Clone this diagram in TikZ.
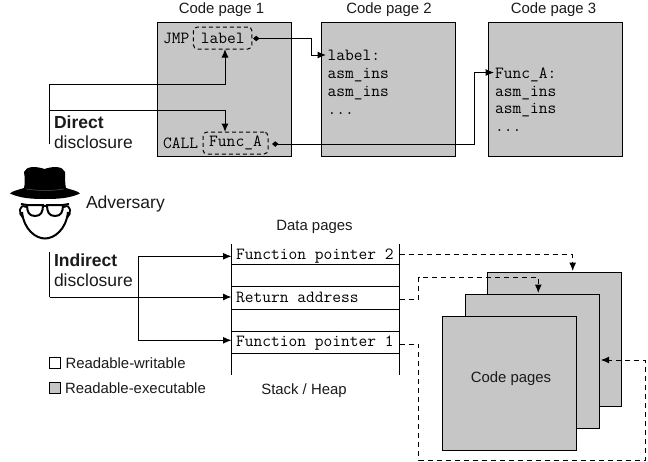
\documentclass[tikz,border=0pt]{standalone}
\usepackage{fontspec}
\setmainfont{Liberation Sans}
\usetikzlibrary{arrows.meta}
\definecolor{pagegray}{HTML}{C6C6C6}
\definecolor{ink}{HTML}{1A1A1A}
\tikzset{
  x=1pt,y=-1pt,
  every node/.style={inner sep=0pt,outer sep=0pt,text=ink},
  sans/.style={font=\fontsize{14.9}{17}\selectfont},
  bigsans/.style={font=\fontsize{17.5}{20}\selectfont},
  mono/.style={font=\fontsize{17}{17.9}\selectfont\ttfamily,text=black},
  pagebox/.style={draw=black,line width=1pt,fill=pagegray,minimum size=134pt},
  refbox/.style={draw=black,line width=1pt,dashed,dash pattern=on 4pt off 3pt,rounded corners=4pt,minimum height=22pt},
  link/.style={draw=black,line width=1pt,-{Latex[length=8.5pt,width=7pt]}},
  ptrlink/.style={draw=black,line width=1pt,{Diamond[length=6.5pt,width=5.5pt]}-{Latex[length=8.5pt,width=7pt]}},
  plain/.style={draw=black,line width=1pt},
  dlink/.style={draw=black,line width=1pt,dash pattern=on 5pt off 4pt,-{Latex[length=8.5pt,width=7pt]}},
  slot/.style={draw=black,line width=1pt},
  legendbox/.style={draw=black,line width=1pt,minimum size=11pt},
}
\begin{document}
\begin{tikzpicture}
\useasboundingbox (0,0) rectangle (648,461);
% code pages
\node[pagebox] (p1) at (224,89.5) {};
\node[pagebox] (p2) at (388.5,89.5) {};
\node[pagebox] (p3) at (555.5,89.5) {};
\node[sans] (t1) at (221.5,10) {Code page 1};
\node[sans] (t2) at (389,10) {Code page 2};
\node[sans] (t3) at (553.5,10) {Code page 3};
\node[mono,anchor=base west] (jmp) at (163,43.5) {JMP};
\node[mono,anchor=base west] (call) at (163,148) {CALL};
\node[mono,refbox,minimum width=58.5pt] (lbl) at (222.7,38) {label};
\node[mono,refbox,minimum width=65pt] (fa) at (235.5,143) {Func\_A};
\node[mono,anchor=north west,align=left] (c2) at (327.5,50) {label:\\asm\_ins\\asm\_ins\\...};
\node[mono,anchor=north west,align=left] (c3) at (495,67.5) {Func\_A:\\asm\_ins\\asm\_ins\\...};
\coordinate (c2in) at (326,55);
\coordinate (c3in) at (494,72.5);
\draw[ptrlink] (253,38.5) -- (311,38.5) |- (c2in);
\draw[ptrlink] (272,144) -- (474,144) |- (c3in);
% direct
\node[bigsans,anchor=west] (dt) at (54,122.5) {\textbf{Direct}};
\node[bigsans,anchor=west] (dd) at (54,142.5) {disclosure};
\coordinate (dtop) at (49.5,84);
\coordinate (dmid) at (49.5,110);
\coordinate (dbot) at (49.5,144);
\draw[plain] (dbot) -- (dtop);
\draw[link] (dtop) -| (lbl.south -| 225,0);
\draw[link] (dmid) -| (fa.north -| 225,0);
% adversary icon
\begin{scope}
\draw[black,line width=2pt,fill=white] (22,212) .. controls (24,230) and (36,238.5) .. (45,238.5) .. controls (54,238.5) and (66,230) .. (68,212);
\draw[black,line width=1.8pt] (26,207) .. controls (19,203) and (18,214) .. (23,218);
\draw[black,line width=1.8pt] (64,207) .. controls (71,203) and (72,214) .. (67,218);
\fill[black] (24,172) .. controls (26,166) and (36,166) .. (44.5,169) .. controls (53,166) and (63,166) .. (65,172)
  .. controls (65,178) and (65,184) .. (66,188) .. controls (72,190) and (78,191) .. (80,193.5)
  .. controls (70,198) and (60,199) .. (45,199) .. controls (30,199) and (20,198) .. (10,193.5)
  .. controls (12,191) and (18,190) .. (24,188) .. controls (25,184) and (25,178) .. (24,172) -- cycle;
\draw[black!65,line width=0.5pt] (26,189) .. controls (38,191) and (52,191) .. (64,189);
\draw[black,line width=2pt,fill=white] (27,205) -- (43,205) .. controls (43,212) and (41,216) .. (35,216) .. controls (29,216) and (27,212) .. (27,205) -- cycle;
\draw[black,line width=2pt,fill=white] (47,205) -- (63,205) .. controls (63,212) and (61,216) .. (55,216) .. controls (49,216) and (47,212) .. (47,205) -- cycle;
\draw[black,line width=2pt] (43,206) -- (47,206);
\draw[black,line width=2pt] (21,204) -- (27,205) (63,205) -- (69,204);
\end{scope}
\node[bigsans,anchor=west] (adv) at (86,204) {Adversary};
% data pages
\node[sans] (dp) at (314.5,227) {Data pages};
\coordinate (sltop) at (231.7,244);
\coordinate (slbot) at (231.7,375);
\coordinate (srtop) at (399.3,244);
\coordinate (srbot) at (399.3,375);
\draw[slot] (sltop) -- (slbot);
\draw[slot] (srtop) -- (srbot);
\foreach \y in {264.3,286.7,309.3,331.3,353.3} \draw[slot] (231.7,\y) -- (399.3,\y);
\node[mono,anchor=base west] (fp2) at (236,259.5) {Function pointer 2};
\node[mono,anchor=base west] (ra) at (236,302.8) {Return address};
\node[mono,anchor=base west] (fp1) at (236,346.5) {Function pointer 1};
\node[sans] (sh) at (304,391) {Stack / Heap};
% indirect
\node[bigsans,anchor=west] (it) at (54,260.5) {\textbf{Indirect}};
\node[bigsans,anchor=west] (id) at (54,280.5) {disclosure};
\coordinate (itop) at (49.5,252);
\coordinate (ibot) at (49.5,297);
\coordinate (ra in) at (231.5,297);
\coordinate (fp2 in) at (231.5,256.3);
\coordinate (fp1 in) at (231.5,340.3);
\draw[plain] (itop) -- (ibot);
\draw[link] (ibot) -- (ra in);
\draw[plain] (138.3,256.3) -- (138.3,340.3);
\draw[link] (138.3,256.3) -- (fp2 in);
\draw[link] (138.3,340.3) -- (fp1 in);
% legend
\node[legendbox,fill=white] (lg1) at (55,363) {};
\node[legendbox,fill=pagegray] (lg2) at (55,388) {};
\node[sans,anchor=west] (lt1) at (65.5,363) {Readable-writable};
\node[sans,anchor=west] (lt2) at (65,388) {Readable-executable};
% code page stack
\node[pagebox] (cb) at (554.5,339) {};
\node[pagebox] (cm) at (532.2,361.3) {};
\node[pagebox] (cf) at (509.5,383.3) {};
\node[sans] (ct) at (511,379) {Code pages};
\coordinate (cbin) at (572.7,271);
\coordinate (cmin) at (538.3,293);
\coordinate (cside) at (600.7,360);
\draw[dlink] (399.5,254.7) -- (572.7,254.7) -- (cbin);
\draw[dlink] (399.5,299.3) -- (418.5,299.3) -- (418.5,277.7) -- (538.3,277.7) -- (cmin);
\draw[dlink] (399.5,344) -- (418.5,344) -- (418.5,460) -- (645,460) -- (645,360) -- (cside);
\end{tikzpicture}
\end{document}
